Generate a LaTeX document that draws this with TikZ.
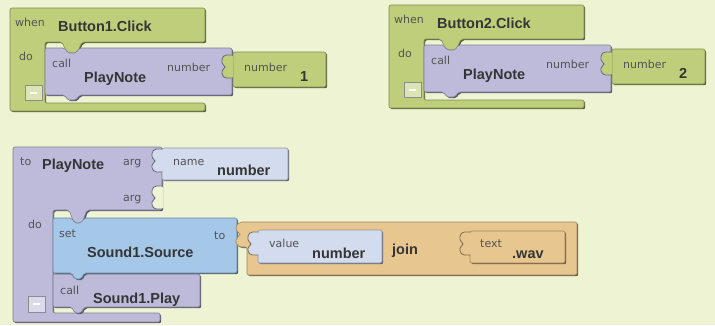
\documentclass[tikz,border=0pt]{standalone}
\usepackage{fontspec}
\setmainfont{Liberation Sans}
\newfontfamily\kwfont{DejaVu Sans}

\definecolor{bgc}{HTML}{EDF3D3}
\definecolor{evgreen}{HTML}{BFCE7A}
\definecolor{procpurple}{HTML}{BEBBDA}
\definecolor{setblue}{HTML}{A5C7E8}
\definecolor{jointan}{HTML}{E8C68F}
\definecolor{valgray}{HTML}{D3DBEE}
\definecolor{ink}{HTML}{353535}

\begin{document}
\begin{tikzpicture}[x=1pt, y=-1pt, line join=round,
    blk/.style={fill=#1, draw=#1!68!black, line width=0.6pt, rounded corners=2pt,
      preaction={fill=#1!45!black, transform canvas={shift={(1.2pt,-1.2pt)}}}},
    kw/.style={font=\kwfont\fontsize{11}{12}\selectfont, text=ink!85,
      anchor=base west, inner sep=0pt},
    big/.style={font=\bfseries\fontsize{14.5}{16}\selectfont, text=ink,
      anchor=base west, inner sep=0pt},
    minusbox/.style={draw=black!45, fill=#1!55!white, line width=0.7pt},
    % socket cut into a block, #1 = block colour, #2 = what fills it
    pics/socket/.style 2 args={code={
      \fill[#2, rounded corners=1.5pt] (11,0) -- (3,0) -- (0,3) -- (0,9)
        -- (3,11) -- (3,13) -- (0,15) -- (0,20) -- (3,23) -- (11,23) -- cycle;
      \draw[draw=#1!55!black, line width=0.8pt, rounded corners=1.5pt]
        (10,0) -- (3,0) -- (0,3) -- (0,9) -- (3,11) -- (3,13) -- (0,15)
        -- (0,20) -- (3,23) -- (10,23);}}]
  \fill[bgc] (0,0) rectangle (715,325);
  \useasboundingbox (0,0) rectangle (715,325);

  % --- the two click handlers ---------------------------------------
  \foreach \k/\dx/\dy in {1/0/0, 2/379/-3} {
    \begin{scope}[shift={(\dx,\dy)}]
      \path[blk=evgreen] (10,8) -- (205,8) -- (205,42) -- (82,42) -- (77,53)
        -- (67,53) -- (62,42) -- (45,42) -- (45,103) -- (205,103)
        -- (205,111) -- (10,111) -- cycle;
      \path[blk=procpurple] (45,48) -- (65,48) -- (67.5,53) -- (76.5,53)
        -- (79,48) -- (232,48) -- (232,95) -- (79,95) -- (76.5,100)
        -- (67.5,100) -- (65,95) -- (45,95) -- cycle;
      \path[blk=evgreen] (233,52) rectangle (326,87);
      \pic at (222,55) {socket={procpurple}{evgreen}};
      \path[minusbox=evgreen] (25,85) rectangle (42,100);
      \draw[white, line width=1.2pt] (30,93) -- (37,93);
      \node[kw] (when\k) at (15,26) {when};
      \node[big] (click\k) at (58,31.5) {Button\k.Click};
      \node[kw] (do\k) at (19,60) {do};
      \node[kw] (call\k) at (52,67) {call};
      \node[big] (note\k) at (84,82.5) {PlayNote};
      \node[kw] (argkw\k) at (167,71) {number};
      \node[kw] (numkw\k) at (244,71) {number};
      \node[big] (numval\k) at (300,81) {\k};
    \end{scope}
  }

  % --- procedure PlayNote -------------------------------------------
  \path[blk=procpurple] (13,147) -- (162,147) -- (162,210) -- (87,210)
    -- (82,223) -- (74,223) -- (69,210) -- (53,210) -- (53,313)
    -- (160,313) -- (160,322) -- (13,322) -- cycle;
  \path[blk=valgray] (162,148) rectangle (288,180);
  \pic at (152,149) {socket={procpurple}{valgray}};
  \pic at (152,186) {socket={procpurple}{bgc}};

  % set Sound1.Source to join(...)
  \path[blk=procpurple] (53,274) -- (72,274) -- (74.5,279) -- (81.5,279)
    -- (84,274) -- (200,274) -- (200,307) -- (84,307) -- (81.5,313)
    -- (74.5,313) -- (72,307) -- (53,307) -- cycle;
  \path[blk=setblue] (53,218) -- (72,218) -- (74.5,223) -- (81.5,223)
    -- (84,218) -- (237,218) -- (237,273) -- (84,273) -- (81.5,279)
    -- (74.5,279) -- (72,273) -- (53,273) -- cycle;
  \path[blk=jointan] (247,222) -- (577,222) -- (577,275) -- (247,275)
    -- (247,247) -- (240,247) -- (236,244) -- (236,238) -- (240,236)
    -- (240,233) -- (236,231) -- (236,226) -- (240,222) -- cycle;
  \path[blk=valgray] (258,230) rectangle (382,263);
  \pic at (248,232) {socket={jointan}{valgray}};
  \path[blk=jointan] (470,231) rectangle (565,263);
  \pic at (460,232) {socket={jointan}{jointan}};

  \path[minusbox=procpurple] (28,296) rectangle (45,312);
  \draw[white, line width=1.2pt] (33,304) -- (40,304);

  \node[kw] (tokw) at (20,165) {to};
  \node[big] (procname) at (42,169) {PlayNote};
  \node[kw] (arga) at (123,165) {arg};
  \node[kw] (argb) at (123,201) {arg};
  \node[kw] (namekw) at (173,165) {name};
  \node[big] (argname) at (217,175) {number};
  \node[kw] (dokw) at (28,228) {do};
  \node[kw] (setkw) at (59,237) {set};
  \node[big] (srcprop) at (87,257) {Sound1.Source};
  \node[kw] (setto) at (214,239) {to};
  \node[kw] (callkw) at (60,294) {call};
  \node[big] (playcall) at (93,303) {Sound1.Play};
  \node[kw] (valuekw) at (269,247) {value};
  \node[big] (valuename) at (312,258) {number};
  \node[big] (joinkw) at (392,254) {join};
  \node[kw] (textkw) at (480,247) {text};
  \node[big] (wavtext) at (512,258) {.wav};
\end{tikzpicture}
\end{document}
